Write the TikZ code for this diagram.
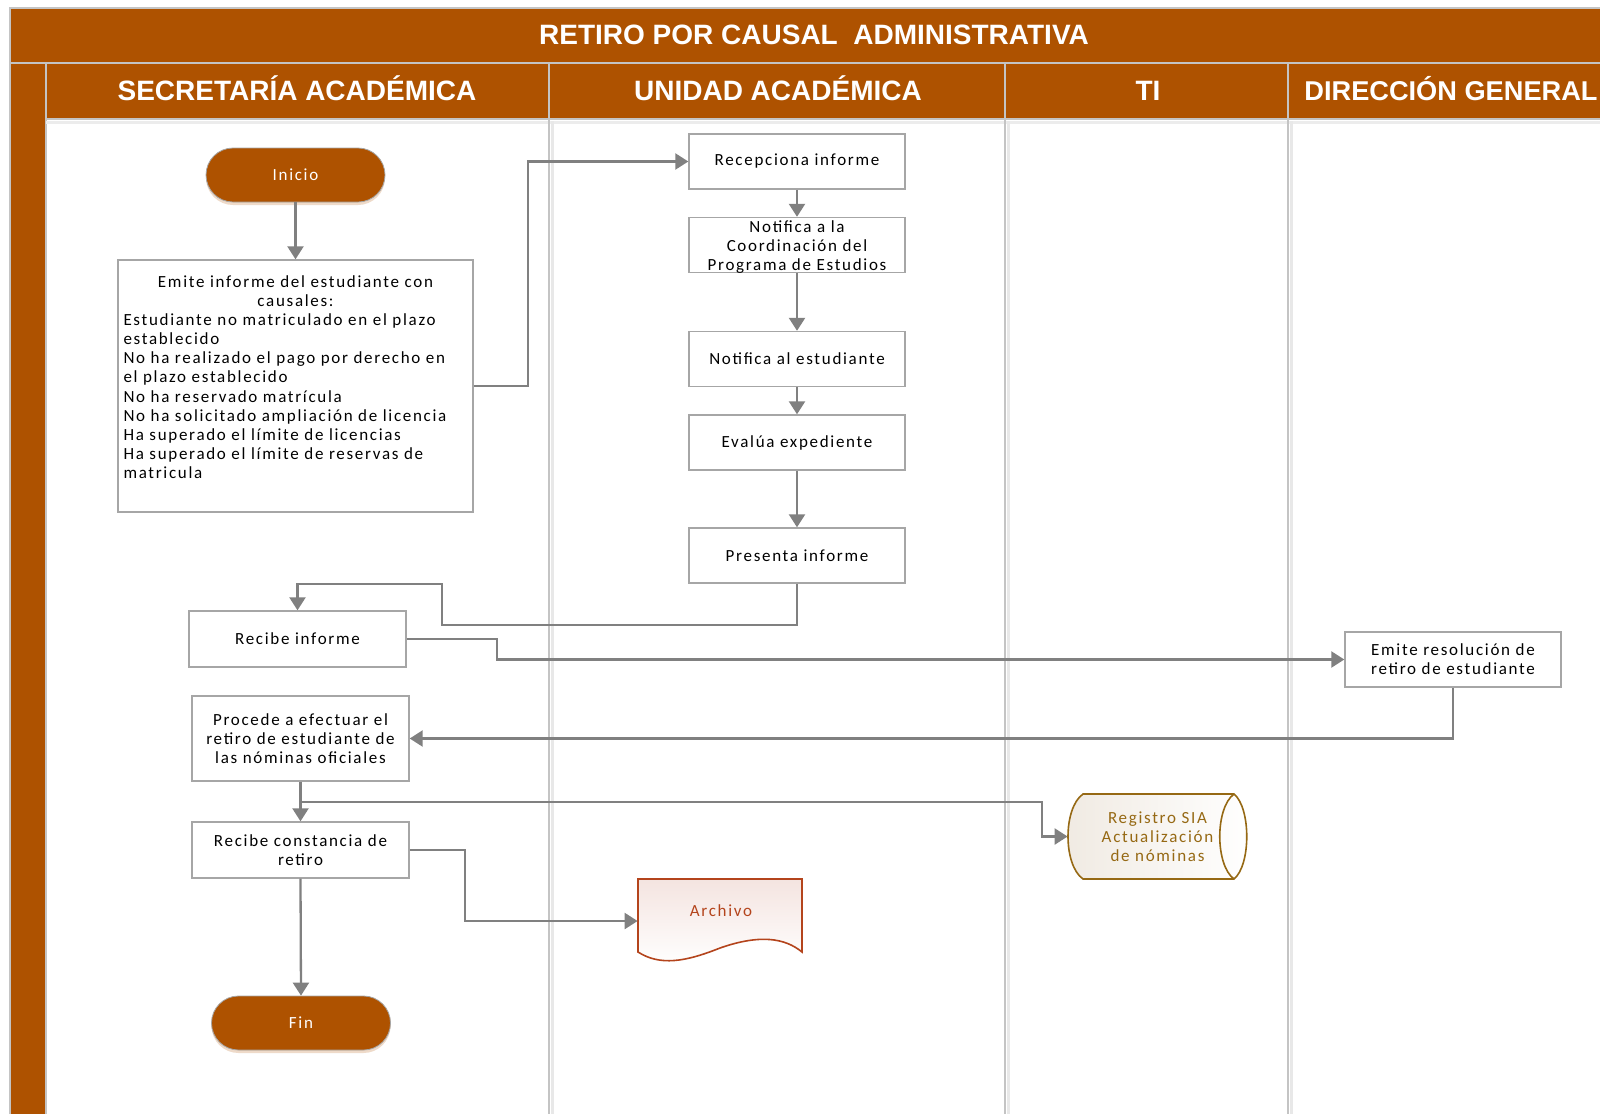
\documentclass[tikz,border=0pt]{standalone}
\usepackage{fontspec}
\usetikzlibrary{arrows.meta,shadows}
\setmainfont{Liberation Sans}
\newfontfamily\boxfont[LetterSpace=10]{Carlito}
\definecolor{ora}{RGB}{174,82,0}
\definecolor{gridgray}{RGB}{196,196,196}
\definecolor{boxgray}{RGB}{166,166,166}
\definecolor{arrgray}{RGB}{128,128,128}
\definecolor{archb}{RGB}{180,68,28}
\definecolor{archfill}{RGB}{244,228,224}
\definecolor{siab}{RGB}{150,105,20}
\definecolor{siafill}{RGB}{240,234,226}
\tikzset{
  txt/.style={font=\boxfont\fontsize{8.5}{9.55}\selectfont},
  head/.style={font=\bfseries\fontsize{14}{16}\selectfont, text=white, text height=10.5pt, text depth=0pt},
  proc/.style={txt, draw=boxgray, line width=0.7pt, fill=white, align=center, inner sep=2pt},
  pill/.style={txt, draw=gray!70, line width=0.4pt, fill=ora, text=white, rounded corners=13.5pt,
    minimum width=89.5pt, minimum height=27pt,
    drop shadow={shadow xshift=0pt, shadow yshift=-1.5pt, fill=ora!35, opacity=0.6}},
  conn/.style={draw=arrgray, line width=1.15pt, -{Triangle[length=6.5pt,width=8pt]}},
}
\begin{document}
\begin{tikzpicture}[x=0.5pt,y=-0.5pt]
\useasboundingbox (0,0) rectangle (1600,1114);
\fill[white] (0,0) rectangle (1600,1114);
% frame
\fill[ora] (10,8) rectangle (1600,63);
\fill[ora] (10,63) rectangle (46,1114);
\fill[ora] (46,63) rectangle (1600,119);
\draw[gridgray, line width=1pt] (10,1114) -- (10,8) -- (1600,8);
\draw[gridgray, line width=0.8pt] (10,63) -- (1600,63);
\draw[gridgray, line width=0.8pt] (46,63) -- (46,1114);
\draw[gridgray, line width=0.8pt] (46,119) -- (1600,119);
\draw[gray!15, line width=1.5pt] (46,122) -- (1600,122);
\foreach \x in {549,1005,1288}{
  \draw[gray!18, line width=1.5pt] (\x+3,121) -- (\x+3,1114);
  \draw[gridgray, line width=1pt] (\x,63) -- (\x,1114);
}
% titles
\node[head] (title) at (814,34) {RETIRO POR CAUSAL\ \ ADMINISTRATIVA};
\node[head] (h1) at (297,89.5) {SECRETARÍA ACADÉMICA};
\node[head] (h2) at (778,89.5) {UNIDAD ACADÉMICA};
\node[head] (h3) at (1148,89.5) {TI};
\node[head, font=\bfseries\fontsize{13.6}{16}\selectfont, anchor=west, inner sep=0pt] (h4) at (1304,89.5) {DIRECCIÓN GENERAL};
% nodes
\node[pill] (inicio) at (295.5,175) {Inicio};
\node[proc, inner xsep=2.5pt, inner ysep=4pt, minimum width=177.5pt, minimum height=126pt] (emite) at (295.5,386)
 {\parbox[c][118pt][t]{172pt}{\vspace{3.8pt}\centering Emite informe del estudiante con\\causales:\par
  \raggedright Estudiante no matriculado en el plazo\\establecido\\No ha realizado el pago por derecho en\\el plazo establecido\\No ha reservado matrícula\\No ha solicitado ampliación de licencia\\Ha superado el límite de licencias\\Ha superado el límite de reservas de\\matricula\par}};
\node[proc, minimum width=108pt, minimum height=27.5pt] (recep) at (797,161.5) {Recepciona informe};
\node[proc, inner ysep=1pt, minimum width=108pt, minimum height=27.5pt] (notc) at (797,245)
 {\parbox[c][25pt][c]{104pt}{\vspace{2pt}\centering Notifica a la\\Coordinación del\\Programa de Estudios}};
\node[proc, minimum width=108pt, minimum height=27.5pt] (note) at (797,359) {Notifica al estudiante};
\node[proc, minimum width=108pt, minimum height=27.5pt] (eval) at (797,442.5) {Evalúa expediente};
\node[proc, minimum width=108pt, minimum height=27.5pt] (pres) at (797,555.5) {Presenta informe};
\node[proc, minimum width=108.5pt, minimum height=28pt] (recib) at (297.5,639) {Recibe informe};
\node[proc, minimum width=108pt, minimum height=27.5pt] (emres) at (1453,659.5) {Emite resolución de\\retiro de estudiante};
\node[proc, minimum width=108.5pt, minimum height=42.5pt] (proc) at (300.5,738.5) {Procede a efectuar el\\retiro de estudiante de\\las nóminas oficiales};
\node[proc, minimum width=108.5pt, minimum height=28pt] (rconst) at (300.5,850) {Recibe constancia de\\retiro};
\node[pill] (fin) at (301,1023) {Fin};
% Registro SIA (stored data)
\draw[siab, line width=0.8pt, left color=siafill, right color=white]
  (1083,794) -- (1234,794) .. controls (1251,808) and (1251,865) .. (1234,879)
  -- (1083,879) .. controls (1063,865) and (1063,808) .. (1083,794) -- cycle;
\draw[siab, line width=0.8pt] (1234,794) .. controls (1215,808) and (1215,865) .. (1234,879);
\node[txt, text=siab, align=center, minimum width=89.5pt, minimum height=42.5pt, inner sep=0pt] (sia) at (1157.5,836.5)
  {Registro SIA\\Actualización\\de nóminas};
% Archivo (document)
\draw[archb, line width=0.8pt, top color=archfill, bottom color=white]
  (638,879) -- (802,879) -- (802,952) .. controls (785,938) and (760,934) .. (720,948)
  .. controls (685,962) and (660,966) .. (638,952) -- cycle;
\node[minimum width=82pt, minimum height=42pt, inner sep=0pt] (arch) at (720,921) {};
\node[txt, text=archb] (archtxt) at (721,911) {Archivo};
% connectors
\draw[conn] (inicio.south) -- (emite.north);
\draw[conn] (emite.east) -- ++(54,0) |- (recep.west);
\draw[conn] (recep) -- (notc);
\draw[conn] (notc) -- (note);
\draw[conn] (note) -- (eval);
\draw[conn] (eval) -- (pres);
\draw[conn] (pres.south) -- ++(0,41) -- ++(-355,0) -- ++(0,-41) -| (recib.north);
\draw[conn] (recib.east) -- ++(90,0) |- (emres.west);
\draw[conn] (emres.south) |- (proc.east);
\draw[conn] (proc.south) -- (rconst.north);
\coordinate (br) at ([yshift=-10pt]proc.south);
\draw[conn] (br) -- ++(741.5,0) |- (sia.west);
\draw[conn] (rconst.east) -- ++(55,0) |- (arch.west);
\draw[conn] (rconst.south) -- (fin.north);
\end{tikzpicture}
\end{document}
